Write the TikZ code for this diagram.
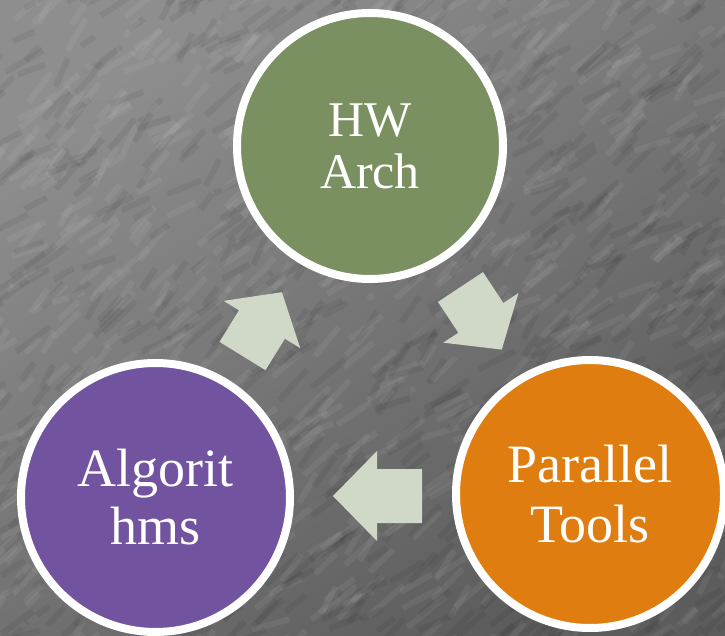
\documentclass[tikz,border=0pt]{standalone}
\usepackage{fontspec}
\setmainfont{Liberation Serif}
\definecolor{bgA}{HTML}{8E8E8E}
\definecolor{bgB}{HTML}{5C5C5C}
\definecolor{cgreen}{HTML}{7A9060}
\definecolor{cpurple}{HTML}{7153A0}
\definecolor{corange}{HTML}{E07D10}
\definecolor{carrow}{HTML}{D0D8C8}
\begin{document}
\begin{tikzpicture}[x=1pt,y=1pt,
  bubble/.style={circle, draw=white, line width=8pt, inner sep=0pt, text=white, align=center},
  blockarrow/.style={fill=carrow, draw=none},
  streakL/.style={line width=6pt, white, opacity=0.06},
  streakD/.style={line width=6pt, black, opacity=0.06}]
% background
\path[use as bounding box] (0,0) rectangle (725,-636);
\shade[top color=bgA, bottom color=bgB, shading angle=35] (0,0) rectangle (725,-636);
\begin{scope}
\clip (0,0) rectangle (725,-636);
\pgfmathsetseed{7}
\foreach \i in {1,...,700}{
  \draw[streakL] (rnd*780-30, -rnd*700+30) -- ++(40:{15+rnd*35});
  \draw[streakD] (rnd*780-30, -rnd*700+30) -- ++(40:{15+rnd*35});
}
\end{scope}
% circles
\node[bubble, fill=cgreen, minimum size=266pt, font=\fontsize{50}{52}\selectfont] (hw) at (370,-146) {HW\\Arch};
\node[bubble, fill=cpurple, minimum size=269pt, font=\fontsize{54}{58}\selectfont] (alg) at (155.5,-497.5) {Algorit\\hms};
\node[bubble, fill=corange, minimum size=268pt, font=\fontsize{54}{60}\selectfont] (par) at (590,-494) {Parallel\\Tools};
% block arrows
\begin{scope}[shift={(242.5,-356)}, rotate=58.3]
  \fill[blockarrow] (0,-27) -- (37,-27) -- (37,-45) -- (75,0) -- (37,45) -- (37,27) -- (0,27) -- cycle;
\end{scope}
\begin{scope}[shift={(460.5,-287)}, rotate=-56.6]
  \fill[blockarrow] (0,-27) -- (37,-27) -- (37,-45) -- (75,0) -- (37,45) -- (37,27) -- (0,27) -- cycle;
\end{scope}
\begin{scope}[shift={(422,-496)}, rotate=180]
  \fill[blockarrow] (0,-27) -- (45,-27) -- (45,-45) -- (89,0) -- (45,45) -- (45,27) -- (0,27) -- cycle;
\end{scope}
\end{tikzpicture}
\end{document}
